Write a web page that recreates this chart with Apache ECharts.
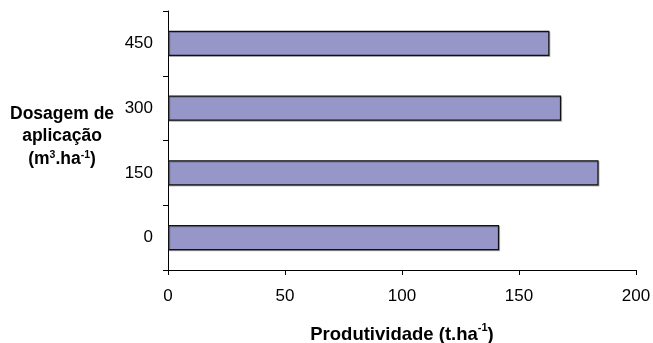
<!DOCTYPE html>
<html>
<head>
<meta charset="utf-8">
<script src="https://cdn.jsdelivr.net/npm/echarts@6/dist/echarts.min.js"></script>
<style>html,body{margin:0;padding:0;background:#fff}#c{width:653px;height:343px}</style>
</head>
<body>
<div id="c"></div>
<script>
const categories = ['0', '150', '300', '450'];
const productivity = [141.5, 184, 168, 163];
const xTicks = [0, 50, 100, 150, 200];

const chart = echarts.init(document.getElementById('c'), null, {renderer: 'canvas'});
const FONT = '"Liberation Sans", Arial, sans-serif';
chart.setOption({
  backgroundColor: '#ffffff',
  animation: false,
  grid: {left: 168, right: 17, top: 11, bottom: 73, containLabel: false, outerBoundsMode: 'none'},
  xAxis: {
    type: 'value',
    min: xTicks[0], max: xTicks[xTicks.length - 1], interval: 50,
    splitLine: {show: false},
    axisLine: {show: true, lineStyle: {color: '#000', width: 1}},
    axisTick: {show: true, length: 5, lineStyle: {color: '#000'}},
    axisLabel: {color: '#000', fontSize: 17, fontFamily: FONT, margin: 18},
    name: '{b|Produtividade (t.ha}{s|-1}{b|)}',
    nameLocation: 'middle',
    nameGap: 52,
    nameTextStyle: {
      rich: {
        b: {fontSize: 18.5, fontWeight: 'bold', fontFamily: FONT, color: '#000', lineHeight: 22, verticalAlign: 'bottom'},
        s: {fontSize: 11, fontWeight: 'bold', fontFamily: FONT, color: '#000', lineHeight: 22, verticalAlign: 'top', padding: [0, 0, 7, 0]}
      }
    }
  },
  yAxis: {
    type: 'category',
    data: categories,
    axisLine: {show: true, lineStyle: {color: '#000', width: 1}},
    axisTick: {show: true, length: 5, lineStyle: {color: '#000'}},
    axisLabel: {color: '#000', fontSize: 17, fontFamily: FONT, margin: 15}
  },
  graphic: [{
    type: 'text',
    left: 10, top: 105,
    style: {
      text: '{b|Dosagem de}\n{b|aplicação}\n{b|(m}{s|3}{b|.ha}{s|-1}{b|)}',
      align: 'center',
      rich: {
        b: {fontSize: 17.5, fontWeight: 'bold', fontFamily: FONT, fill: '#000', lineHeight: 22.5, align: 'center'},
        s: {fontSize: 10.5, fontWeight: 'bold', fontFamily: FONT, fill: '#000', lineHeight: 22.5, padding: [0, 0, 8, 0]}
      }
    }
  }],
  series: [{
    type: 'bar',
    data: productivity,
    barWidth: '39%',
    itemStyle: {
      color: '#9696C8',
      borderColor: '#111111',
      borderWidth: 1.2,
      shadowColor: 'rgba(0,0,0,0.25)',
      shadowOffsetX: 1,
      shadowOffsetY: 1,
      shadowBlur: 0
    }
  }]
});
</script>
</body>
</html>
